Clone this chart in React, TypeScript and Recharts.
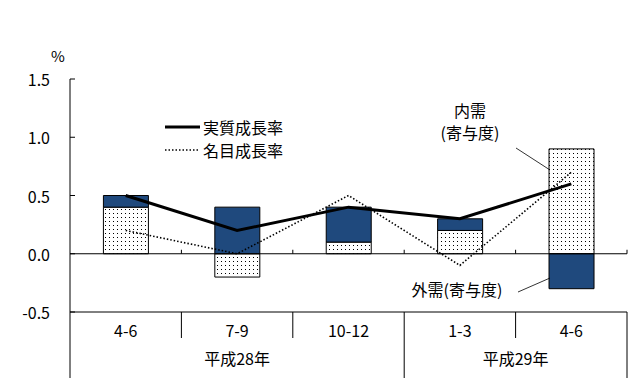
import React from 'react';
import { ComposedChart, Bar, Line, XAxis, YAxis, ReferenceLine, Legend } from 'recharts';

const categories = ['4-6', '7-9', '10-12', '1-3', '4-6'];
const years = ['平成28年', '平成28年', '平成28年', '平成29年', '平成29年'];
const domestic = [0.4, -0.2, 0.1, 0.2, 0.9];
const external = [0.1, 0.4, 0.3, 0.1, -0.3];
const realGrowth = [0.5, 0.2, 0.4, 0.3, 0.6];
const nominalGrowth = [0.2, 0.0, 0.5, -0.1, 0.7];
const yTicks = [-0.5, 0, 0.5, 1.0, 1.5];

const data = categories.map((c, i) => ({
  idx: i,
  cat: c,
  domestic: domestic[i],
  external: external[i],
  real: realGrowth[i],
  nominal: nominalGrowth[i],
}));

const FONT = "'Noto Sans CJK JP', sans-serif";
const NAVY = '#1F497D';

const YTick = (props: any) => {
  const { x, y, payload } = props;
  return (
    <g>
      <line x1={x + 20} x2={x + 25} y1={y} y2={y} stroke="#000" strokeWidth={1} />
      <text x={x} y={y} textAnchor="end" dominantBaseline="central" fontSize={16} fontFamily={FONT} fill="#000">
        {Number(payload.value).toFixed(1)}
      </text>
    </g>
  );
};

const XTick = (props: any) => {
  const { x, y, payload, index, visibleTicksCount, width } = props;
  const i = payload?.index ?? index;
  const off = payload?.offset || width / (visibleTicksCount || categories.length) / 2;
  const band = off * 2;
  const bottom = y + 66;
  const groupStart = i === 0 || years[i] !== years[i - 1];
  const els: any[] = [];
  els.push(
    <text key="c" x={x} y={y + 18} textAnchor="middle" dominantBaseline="central" fontSize={16} fontFamily={FONT} fill="#000">
      {categories[i]}
    </text>
  );
  if (groupStart) {
    let j = i;
    while (j + 1 < years.length && years[j + 1] === years[i]) j++;
    const left = x - off;
    const right = left + (j - i + 1) * band;
    els.push(<line key="gl" x1={left} x2={left} y1={y} y2={bottom} stroke="#000" strokeWidth={1} />);
    els.push(
      <text key="y" x={(left + right) / 2} y={y + 46} textAnchor="middle" dominantBaseline="central" fontSize={16} fontFamily={FONT} fill="#000">
        {years[i]}
      </text>
    );
  } else {
    els.push(<line key="cl" x1={x - off} x2={x - off} y1={y} y2={y + 26} stroke="#000" strokeWidth={1} />);
  }
  if (i === categories.length - 1) {
    els.push(<line key="r" x1={x + off} x2={x + off} y1={y} y2={bottom} stroke="#000" strokeWidth={1} />);
  }
  return <g>{els}</g>;
};

const ZeroLine = (props: any) => {
  const { x1, x2, y1 } = props;
  const n = categories.length;
  const step = (x2 - x1) / n;
  const ticks = [];
  for (let k = 1; k <= n; k++) {
    const tx = x1 + step * k;
    ticks.push(<line key={k} x1={tx} x2={tx} y1={y1} y2={y1 - 4} stroke="#000" strokeWidth={1} />);
  }
  return (
    <g>
      <line x1={x1} x2={x2} y1={y1} y2={y1} stroke="#000" strokeWidth={1} />
      {ticks}
    </g>
  );
};

const LegendContent = () => (
  <svg width={170} height={50} style={{ display: 'block', overflow: 'visible' }}>
    <line x1={2} x2={37} y1={10} y2={10} stroke="#000" strokeWidth={3} />
    <text x={40} y={10} dominantBaseline="central" fontSize={16} fontFamily={FONT} fill="#000">実質成長率</text>
    <line x1={2} x2={37} y1={33} y2={33} stroke="#000" strokeWidth={1.5} strokeDasharray="1.5 2" />
    <text x={40} y={33} dominantBaseline="central" fontSize={16} fontFamily={FONT} fill="#000">名目成長率</text>
  </svg>
);

export default function App() {
  return (
    <div style={{ position: 'absolute', left: 0, top: 0, width: 643, height: 378, background: '#fff' }}>
      <ComposedChart
        width={643}
        height={378}
        data={data}
        stackOffset="sign"
        barCategoryGap="30%"
        margin={{ top: 79, right: 16, bottom: 0, left: 0 }}
      >
        <defs>
          <pattern id="dots" width={4} height={4} patternUnits="userSpaceOnUse">
            <rect x={0} y={0} width={4} height={4} fill="#fff" />
            <rect x={1} y={1} width={1} height={1} fill="#000" />
          </pattern>
        </defs>
        <XAxis
          dataKey="idx"
          type="category"
          height={66}
          tickLine={false}
          tickSize={0}
          tickMargin={0}
          axisLine={{ stroke: '#000', strokeWidth: 1 }}
          tick={<XTick />}
          interval={0}
        />
        <YAxis
          width={70}
          domain={[-0.5, 1.5]}
          ticks={yTicks}
          type="number"
          tickLine={false}
          tickSize={0}
          tickMargin={20}
          axisLine={{ stroke: '#000', strokeWidth: 1 }}
          tick={<YTick />}
          interval={0}
        />
        <Legend
          layout="vertical"
          align="center"
          verticalAlign="middle"
          content={<LegendContent />}
          wrapperStyle={{ position: 'absolute', top: 117, left: 163, width: 170, height: 50 }}
        />
        <Bar dataKey="domestic" stackId="a" fill="url(#dots)" stroke="#000" strokeWidth={1} isAnimationActive={false} />
        <Bar dataKey="external" stackId="a" fill={NAVY} stroke="#000" strokeWidth={1} isAnimationActive={false} />
        <ReferenceLine y={0} stroke="#000" shape={(p: any) => <ZeroLine {...p} />} />
        <Line dataKey="nominal" stroke="#000" strokeWidth={1.6} strokeDasharray="1.5 2" dot={false} isAnimationActive={false} />
        <Line dataKey="real" stroke="#000" strokeWidth={3} dot={false} isAnimationActive={false} />
      </ComposedChart>
      <svg width={643} height={378} style={{ position: 'absolute', left: 0, top: 0, pointerEvents: 'none' }}>
        <text x={58} y={55} textAnchor="middle" dominantBaseline="central" fontSize={15} fontFamily={FONT} fill="#000">%</text>
        <text x={470} y={110} textAnchor="middle" dominantBaseline="central" fontSize={16} fontFamily={FONT} fill="#000">内需</text>
        <text x={470} y={132} textAnchor="middle" dominantBaseline="central" fontSize={16} fontFamily={FONT} fill="#000">(寄与度)</text>
        <line x1={516} y1={148} x2={550} y2={170} stroke="#000" strokeWidth={0.8} />
        <text x={457} y={289} textAnchor="middle" dominantBaseline="central" fontSize={16} fontFamily={FONT} fill="#000">外需(寄与度)</text>
        <line x1={518} y1={292} x2={550} y2={278} stroke="#000" strokeWidth={0.8} />
      </svg>
    </div>
  );
}
